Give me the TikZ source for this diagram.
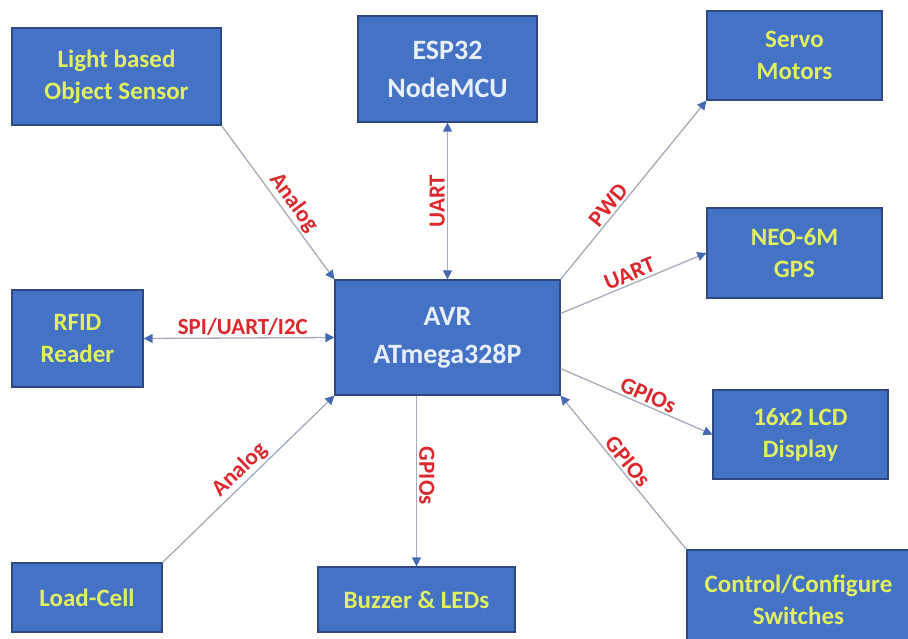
\documentclass[tikz,border=0pt]{standalone}
\usepackage{fontspec}
\setmainfont{Carlito}
\usetikzlibrary{arrows.meta,calc}
\definecolor{boxfill}{RGB}{68,114,196}
\definecolor{boxline}{RGB}{47,72,130}
\definecolor{ytext}{RGB}{226,240,96}
\definecolor{wtext}{RGB}{232,238,250}
\definecolor{lred}{RGB}{220,40,45}
\definecolor{lgray}{RGB}{165,172,185}
\definecolor{tipblue}{RGB}{68,106,180}
\tikzset{
  blk/.style={draw=boxline, line width=1.2pt, fill=boxfill, align=center,
    font=\bfseries\fontsize{25}{32}\selectfont, text=ytext, inner sep=0pt},
  wblk/.style={blk, text=wtext, font=\bfseries\fontsize{28}{38}\selectfont},
  conn/.style={draw=lgray, line width=1.3pt,
    -{Triangle[width=9pt,length=9pt,fill=tipblue,color=tipblue]}},
  bconn/.style={conn,
    {Triangle[width=9pt,length=9pt,fill=tipblue,color=tipblue]}-{Triangle[width=9pt,length=9pt,fill=tipblue,color=tipblue]}},
  lbl/.style={text=lred, font=\bfseries\fontsize{23}{26}\selectfont, sloped, inner sep=2pt}
}
\begin{document}
\begin{tikzpicture}[x=1pt,y=-1pt]
\useasboundingbox (0,0) rectangle (908,639);
\clip (0,0) rectangle (908,639);
\fill[white] (0,0) rectangle (908,639);
% boxes
\node[blk, minimum width=209pt, minimum height=97pt] (light) at (116.5,76.5) {Light based\\Object Sensor};
\node[wblk, minimum width=179pt, minimum height=106pt] (esp) at (447.5,69) {ESP32\\NodeMCU};
\node[blk, minimum width=175pt, minimum height=89pt] (servo) at (794.5,55.5) {Servo\\Motors};
\node[blk, minimum width=175pt, minimum height=90pt] (neo) at (794.5,253) {NEO-6M\\GPS};
\node[blk, minimum width=131pt, minimum height=97pt] (rfid) at (77.5,338.5) {RFID\\Reader};
\node[wblk, minimum width=225pt, minimum height=115pt] (avr) at (447.5,337.5) {AVR\\ATmega328P};
\node[blk, minimum width=175pt, minimum height=89pt] (lcd) at (800.5,434.5) {16x2 LCD\\Display};
\node[blk, minimum width=223pt, minimum height=100pt] (ctrl) at (798.5,600) {Control/Configure\\Switches};
\node[blk, minimum width=150pt, minimum height=69pt] (load) at (87,597.5) {Load-Cell};
\node[blk, minimum width=197pt, minimum height=65pt] (buzz) at (416.5,599.5) {Buzzer \& LEDs};
% connectors
\draw[conn] (light.south east) -- node[lbl, above, pos=0.55] {Analog} (avr.north west);
\draw[bconn] (avr.north) -- node[lbl, above, pos=0.5] {UART} (esp.south);
\draw[conn] (avr.north east) -- node[lbl, above, pos=0.38] {PWD} (servo.south west);
\draw[conn] ([yshift=24pt]avr.east) -- node[lbl, above, pos=0.5] {UART} (neo.west);
\draw[bconn] (rfid.east) -- node[lbl, above, pos=0.52] {SPI/UART/I2C} (avr.west);
\draw[conn] (load.north east) -- node[lbl, above, pos=0.5] {Analog} (avr.south west);
\draw[conn] (avr.south -| buzz.north) -- node[lbl, above, pos=0.47] {GPIOs} (buzz.north);
\draw[conn] ([yshift=-31pt]avr.east) -- node[lbl, above, pos=0.55] {GPIOs} (lcd.west);
\draw[conn] (ctrl.north west) -- node[lbl, above, pos=0.53] {GPIOs} (avr.south east);
\end{tikzpicture}
\end{document}
